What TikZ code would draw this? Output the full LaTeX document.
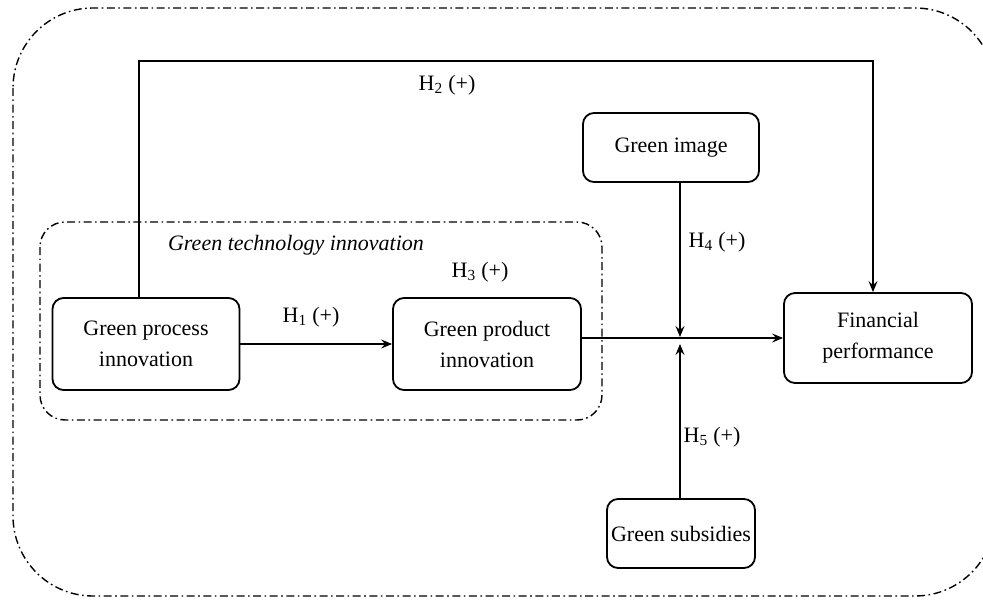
\documentclass[tikz,border=0pt]{standalone}
\usepackage{fontspec}
\setmainfont{LiberationSerif}[Extension=.ttf,UprightFont=*-Regular,ItalicFont=*-Italic,BoldFont=*-Bold]
\usetikzlibrary{arrows.meta}
\begin{document}
\begin{tikzpicture}[x=1pt,y=-1pt,
  box/.style={draw,line width=1.8pt,rounded corners=11pt,align=center,inner sep=0pt,
    font=\fontsize{22}{31}\selectfont},
  lab/.style={font=\fontsize{22}{26}\selectfont,inner sep=0pt},
  arr/.style={line width=1.5pt,-{Stealth[length=11pt,width=9pt,inset=4pt]}},
  dashdot/.style={line width=1.4pt,dash pattern=on 8pt off 3.5pt on 1.6pt off 3.5pt}]
\useasboundingbox (0,0) rectangle (983,607);
\clip (0,0) rectangle (983,607);
% frames
\draw[dashdot,rounded corners=80pt] (13,8) rectangle (995,596);
\draw[dashdot,rounded corners=25pt] (40,222) rectangle (602,420);
% nodes
\node[box,minimum width=187pt,minimum height=92pt] (gpi) at (146,344) {Green process\\innovation};
\node[box,minimum width=188pt,minimum height=92pt] (gpd) at (487,344) {Green product\\innovation};
\node[box,minimum width=176pt,minimum height=69pt] (gim) at (671,147.5) {Green image};
\node[box,minimum width=148pt,minimum height=69pt] (gsu) at (681,533.5) {Green subsidies};
\node[box,minimum width=188pt,minimum height=90pt] (fin) at (878,338) {Financial\\performance};
% labels
\node[lab,font=\fontsize{22}{26}\selectfont\itshape] (gti) at (296,245) {Green technology innovation};
\node[lab] (h1) at (311,317) {H\textsubscript{1} (+)};
\node[lab] (h2) at (447,85) {H\textsubscript{2} (+)};
\node[lab] (h3) at (480,272) {H\textsubscript{3} (+)};
\node[lab] (h4) at (717,242) {H\textsubscript{4} (+)};
\node[lab] (h5) at (712,437) {H\textsubscript{5} (+)};
% connectors
\coordinate (h2a) at (139,61);
\coordinate (h2b) at (873,61);
\coordinate (j) at (680,338);
\draw[arr] (gpi.north -| h2a) -- (h2a) -- (h2b) -- (h2b |- fin.north);
\draw[arr] (gpi) -- (gpd);
\draw[arr] (gpd.east |- fin) -- (fin.west);
\draw[arr] (gim.south -| j) -- ([yshift=1pt]j);
\draw[arr] (gsu.north -| j) -- ([yshift=-6pt]j);
\end{tikzpicture}
\end{document}
